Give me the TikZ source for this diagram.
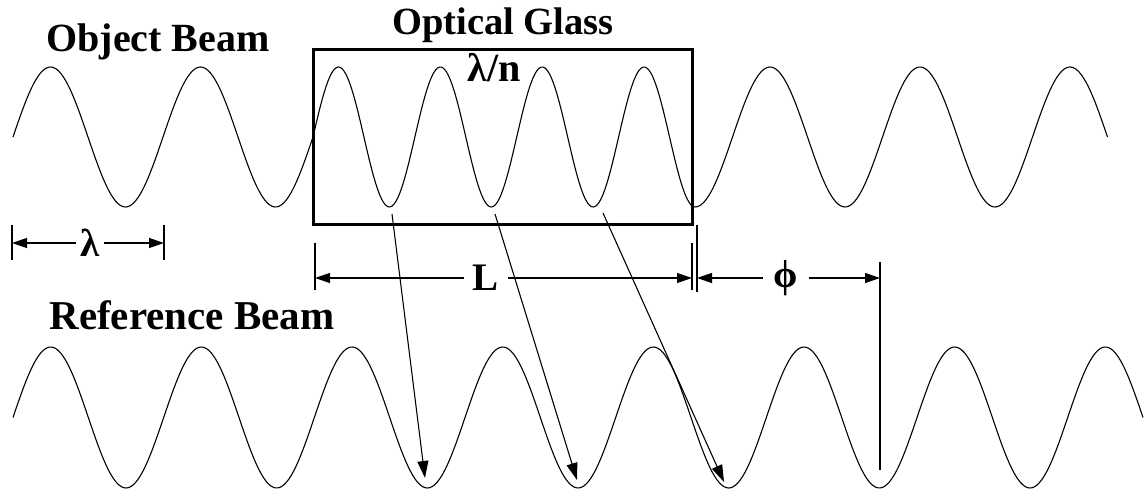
\documentclass[tikz,border=0pt]{standalone}
\usepackage{fontspec}
\setmainfont{Liberation Serif}
\usetikzlibrary{arrows.meta}
\tikzset{
  lbl/.style={font=\bfseries\fontsize{40}{42}\selectfont, inner sep=0pt, anchor=base},
  dimlbl/.style={font=\bfseries\fontsize{39}{40}\selectfont, inner ysep=0pt, inner xsep=9pt, anchor=center},
  wave/.style={line width=1.1pt},
  glass/.style={line width=3pt},
  tickline/.style={line width=1.3pt},
  dimarr/.style={line width=1.3pt, -{Triangle[length=15pt,width=10pt]}},
  ray/.style={line width=1.1pt, -{Triangle[length=17pt,width=11pt]}}
}
\begin{document}
\begin{tikzpicture}[x=1pt,y=-1pt]
\useasboundingbox (0,0) rectangle (1144,494);
% labels
\node[lbl] (obj) at (158,52) {Object Beam};
\node[lbl, font=\bfseries\fontsize{38.5}{40}\selectfont] (glasslbl) at (503,35) {Optical Glass};
\node[lbl, font=\bfseries\fontsize{41}{42}\selectfont] (ref) at (192,330) {Reference Beam};
\node[lbl] (lamn) at (494,82) {λ/n};
% glass box
\node[glass, draw, minimum width=379pt, minimum height=175pt, inner sep=0pt] (glass) at (502.5,137.5) {};
% object beam
\draw[wave] plot[domain=13:313, samples=150, smooth] (\x,{137-70*sin(2.4*(\x-13))});
\draw[wave] plot[domain=313:695, samples=200, smooth] (\x,{137-70*sin(3.53392*(\x-313))});
\draw[wave] plot[domain=695:1107.5, samples=200, smooth] (\x,{137-70*sin(2.4*(\x-695)+270)});
% reference beam
\draw[wave] plot[domain=13:1143, samples=500, smooth] (\x,{417.5-70.5*sin(2.38933*(\x-13))});
% lambda dimension
\node[dimlbl, inner xsep=4pt] (lam) at (90,243) {λ};
\coordinate (lamL) at (12,243);
\coordinate (lamR) at (164,243);
\draw[tickline] (12,225) -- (12,260);
\draw[tickline] (164,225) -- (164,260);
\draw[dimarr] (lam.west) -- (lamL);
\draw[dimarr] (lam.east) -- (lamR);
% L dimension
\node[dimlbl] (Ll) at (486,278) {L};
\coordinate (LL) at (315,278);
\coordinate (LR) at (692,278);
\draw[tickline] (315,243) -- (315,290);
\draw[tickline] (692,243) -- (692,290);
\draw[dimarr] (Ll.west) -- (LL);
\draw[dimarr] (Ll.east) -- (LR);
% phi dimension
\node[dimlbl, inner xsep=11pt] (phi) at (786,278) {ϕ};
\coordinate (PL) at (697,278);
\coordinate (PR) at (880,278);
\draw[tickline] (697,225) -- (697,292);
\draw[tickline] (880,262) -- (880,470);
\draw[dimarr] (phi.west) -- (PL);
\draw[dimarr] (phi.east) -- (PR);
% rays
\coordinate (o1) at (392,214);
\coordinate (o2) at (495,214);
\coordinate (o3) at (603,213);
\coordinate (r1) at (425,478);
\coordinate (r2) at (577,480);
\coordinate (r3) at (724,482);
\draw[ray] (o1) -- (r1);
\draw[ray] (o2) -- (r2);
\draw[ray] (o3) -- (r3);
\end{tikzpicture}
\end{document}
